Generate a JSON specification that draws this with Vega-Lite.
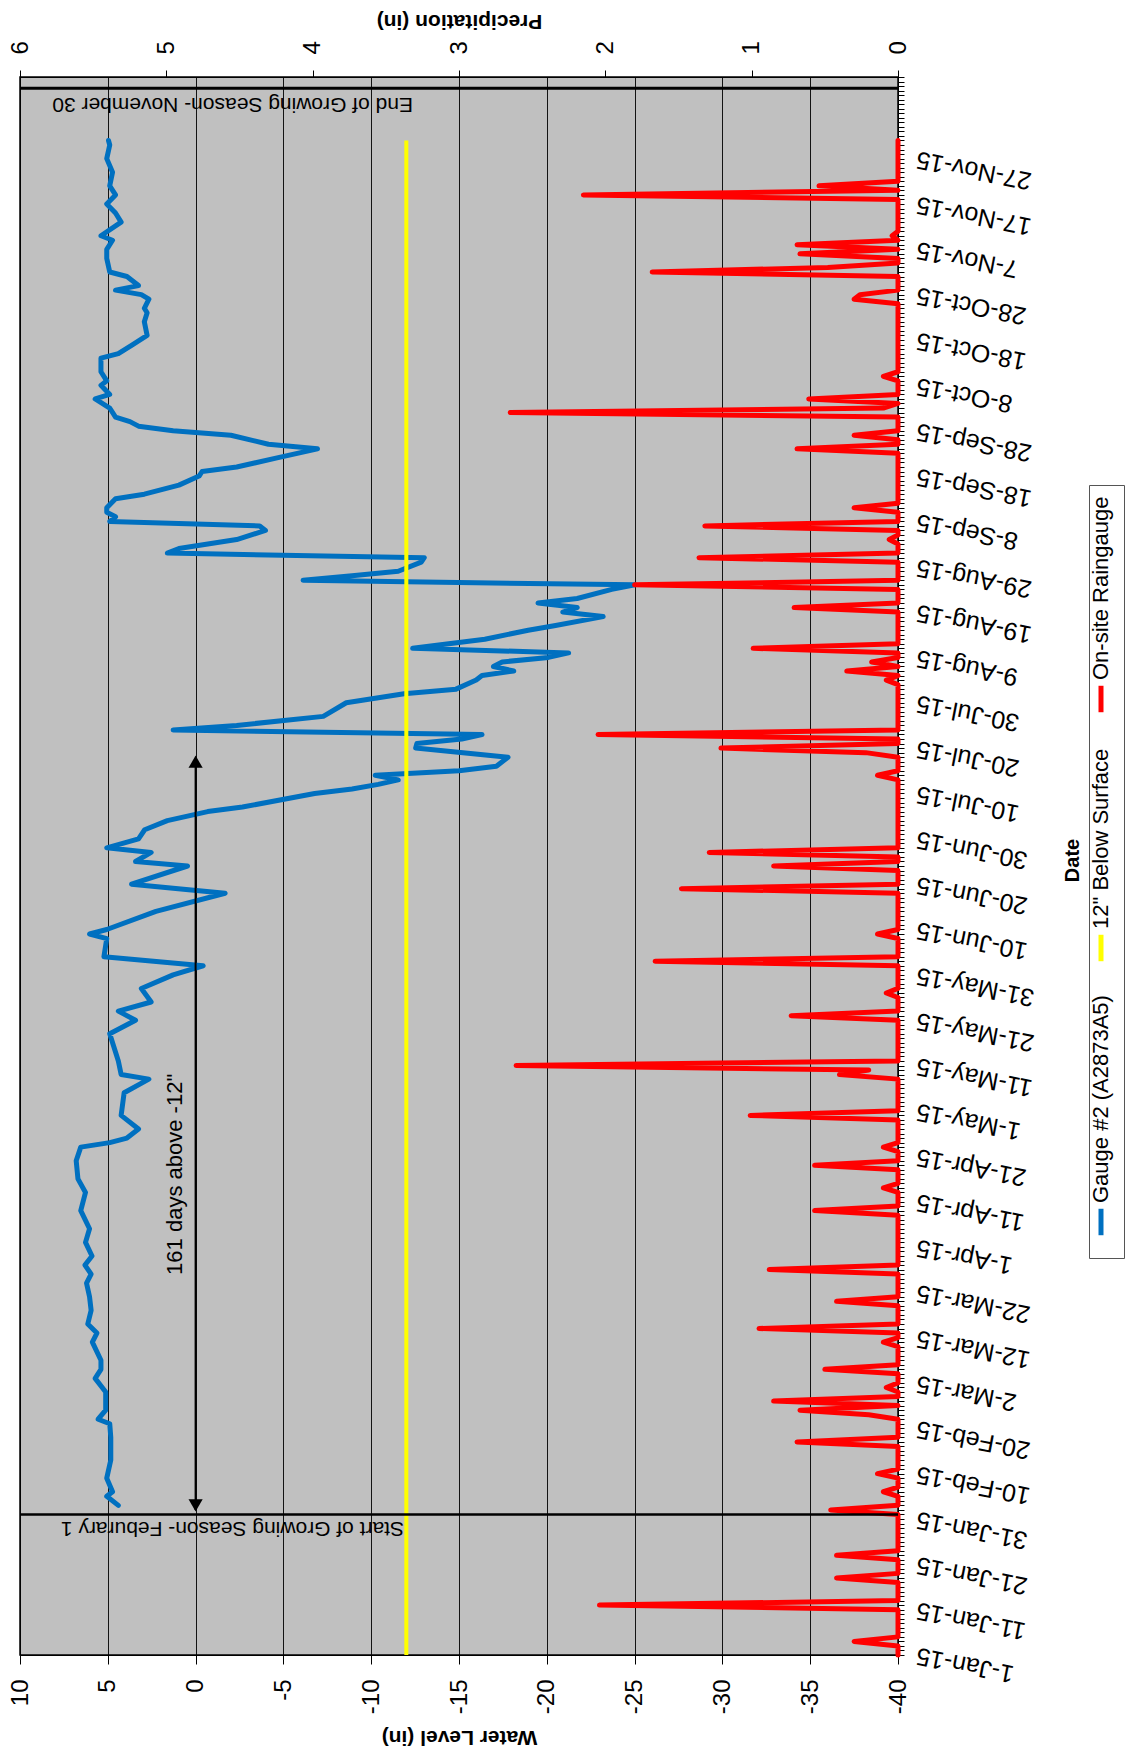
{
"$schema": "https://vega.github.io/schema/vega-lite/v6.json",
"width": 878, "height": 1578,
"autosize": {"type": "none"},
"padding": {"left": 20, "top": 77, "right": 228, "bottom": 97},
"background": "white",
"config": {
  "view": {"fill": "#C0C0C0", "stroke": "#000", "strokeWidth": 1.5},
  "font": "Liberation Sans",
  "axis": {"labelFont": "Liberation Sans", "titleFont": "Liberation Sans", "labelColor": "#000", "titleColor": "#000", "domainColor": "#000", "tickColor": "#000", "tickWidth": 1}
},
"datasets": {
"gauge": [{"d":"2015-02-03","v":4.40},{"d":"2015-02-05","v":5.06},{"d":"2015-02-06","v":4.73},{"d":"2015-02-09","v":5.06},{"d":"2015-02-13","v":4.83},{"d":"2015-02-18","v":4.83},{"d":"2015-02-21","v":4.89},{"d":"2015-02-22","v":5.55},{"d":"2015-02-24","v":5.12},{"d":"2015-02-28","v":5.12},{"d":"2015-03-03","v":5.72},{"d":"2015-03-05","v":5.39},{"d":"2015-03-07","v":5.39},{"d":"2015-03-11","v":5.88},{"d":"2015-03-13","v":5.62},{"d":"2015-03-15","v":6.14},{"d":"2015-03-18","v":5.95},{"d":"2015-03-21","v":6.04},{"d":"2015-03-24","v":6.21},{"d":"2015-03-26","v":5.95},{"d":"2015-03-28","v":6.30},{"d":"2015-03-30","v":5.90},{"d":"2015-04-02","v":6.27},{"d":"2015-04-05","v":6.04},{"d":"2015-04-09","v":6.54},{"d":"2015-04-13","v":6.27},{"d":"2015-04-16","v":6.70},{"d":"2015-04-20","v":6.80},{"d":"2015-04-23","v":6.54},{"d":"2015-04-24","v":4.89},{"d":"2015-04-25","v":3.91},{"d":"2015-04-27","v":3.25},{"d":"2015-04-30","v":4.24},{"d":"2015-05-05","v":4.07},{"d":"2015-05-08","v":2.66},{"d":"2015-05-09","v":4.24},{"d":"2015-05-12","v":4.40},{"d":"2015-05-18","v":4.89},{"d":"2015-05-21","v":3.42},{"d":"2015-05-23","v":4.40},{"d":"2015-05-25","v":2.53},{"d":"2015-05-28","v":3.09},{"d":"2015-05-31","v":1.28},{"d":"2015-06-02","v":-0.43},{"d":"2015-06-04","v":5.22},{"d":"2015-06-08","v":5.06},{"d":"2015-06-09","v":6.04},{"d":"2015-06-10","v":5.06},{"d":"2015-06-14","v":2.26},{"d":"2015-06-18","v":-1.68},{"d":"2015-06-20","v":3.65},{"d":"2015-06-24","v":0.46},{"d":"2015-06-25","v":3.42},{"d":"2015-06-27","v":2.53},{"d":"2015-06-28","v":5.06},{"d":"2015-06-30","v":3.25},{"d":"2015-07-02","v":2.90},{"d":"2015-07-04","v":1.61},{"d":"2015-07-06","v":-0.69},{"d":"2015-07-07","v":-2.67},{"d":"2015-07-10","v":-6.78},{"d":"2015-07-11","v":-8.91},{"d":"2015-07-12","v":-10.40},{"d":"2015-07-13","v":-11.54},{"d":"2015-07-14","v":-10.23},{"d":"2015-07-15","v":-15.00},{"d":"2015-07-16","v":-17.13},{"d":"2015-07-18","v":-17.79},{"d":"2015-07-20","v":-12.53},{"d":"2015-07-21","v":-12.60},{"d":"2015-07-22","v":-15.16},{"d":"2015-07-23","v":-16.31},{"d":"2015-07-24","v":1.28},{"d":"2015-07-25","v":-2.34},{"d":"2015-07-27","v":-7.27},{"d":"2015-07-30","v":-8.58},{"d":"2015-08-01","v":-11.87},{"d":"2015-08-02","v":-14.83},{"d":"2015-08-04","v":-15.98},{"d":"2015-08-05","v":-16.31},{"d":"2015-08-06","v":-18.12},{"d":"2015-08-07","v":-16.96},{"d":"2015-08-08","v":-17.46},{"d":"2015-08-09","v":-20.09},{"d":"2015-08-10","v":-21.24},{"d":"2015-08-11","v":-12.36},{"d":"2015-08-13","v":-16.47},{"d":"2015-08-15","v":-18.94},{"d":"2015-08-16","v":-20.42},{"d":"2015-08-18","v":-23.21},{"d":"2015-08-19","v":-20.91},{"d":"2015-08-20","v":-21.73},{"d":"2015-08-21","v":-19.50},{"d":"2015-08-22","v":-21.73},{"d":"2015-08-24","v":-23.70},{"d":"2015-08-25","v":-25.02},{"d":"2015-08-26","v":-6.12},{"d":"2015-08-27","v":-8.91},{"d":"2015-08-28","v":-11.54},{"d":"2015-08-30","v":-12.85},{"d":"2015-08-31","v":-13.02},{"d":"2015-09-01","v":1.61},{"d":"2015-09-02","v":0.95},{"d":"2015-09-04","v":-2.34},{"d":"2015-09-06","v":-3.98},{"d":"2015-09-07","v":-3.65},{"d":"2015-09-08","v":4.89},{"d":"2015-09-09","v":4.56},{"d":"2015-09-10","v":5.06},{"d":"2015-09-11","v":5.06},{"d":"2015-09-13","v":4.56},{"d":"2015-09-14","v":2.92},{"d":"2015-09-16","v":0.95},{"d":"2015-09-18","v":-0.20},{"d":"2015-09-19","v":-0.37},{"d":"2015-09-20","v":-2.34},{"d":"2015-09-22","v":-4.64},{"d":"2015-09-24","v":-6.94},{"d":"2015-09-25","v":-4.15},{"d":"2015-09-27","v":-2.01},{"d":"2015-09-28","v":1.28},{"d":"2015-09-29","v":3.25},{"d":"2015-09-30","v":3.74},{"d":"2015-10-01","v":4.56},{"d":"2015-10-03","v":4.89},{"d":"2015-10-05","v":5.72},{"d":"2015-10-06","v":4.89},{"d":"2015-10-08","v":5.39},{"d":"2015-10-09","v":5.06},{"d":"2015-10-11","v":5.39},{"d":"2015-10-14","v":5.39},{"d":"2015-10-15","v":4.40},{"d":"2015-10-17","v":3.58},{"d":"2015-10-19","v":2.76},{"d":"2015-10-22","v":2.92},{"d":"2015-10-24","v":2.76},{"d":"2015-10-25","v":2.92},{"d":"2015-10-27","v":2.66},{"d":"2015-10-28","v":3.09},{"d":"2015-10-29","v":4.56},{"d":"2015-10-30","v":3.25},{"d":"2015-11-01","v":3.91},{"d":"2015-11-02","v":4.89},{"d":"2015-11-05","v":5.06},{"d":"2015-11-07","v":5.06},{"d":"2015-11-09","v":4.73},{"d":"2015-11-10","v":5.39},{"d":"2015-11-13","v":4.24},{"d":"2015-11-15","v":4.56},{"d":"2015-11-17","v":5.06},{"d":"2015-11-19","v":4.56},{"d":"2015-11-21","v":4.89},{"d":"2015-11-24","v":4.73},{"d":"2015-11-27","v":5.06},{"d":"2015-11-30","v":4.89},{"d":"2015-12-01","v":4.96}],
"rain": [
{"d":"2015-01-01","p":0},{"d":"2015-01-02","p":0},{"d":"2015-01-03","p":0},{"d":"2015-01-04","p":0.30},{"d":"2015-01-05","p":0},{"d":"2015-01-06","p":0},{"d":"2015-01-07","p":0},{"d":"2015-01-08","p":0},{"d":"2015-01-09","p":0},{"d":"2015-01-10","p":0},{"d":"2015-01-11","p":0},{"d":"2015-01-12","p":2.04},{"d":"2015-01-13","p":0},{"d":"2015-01-14","p":0},{"d":"2015-01-15","p":0},{"d":"2015-01-16","p":0},{"d":"2015-01-17","p":0},{"d":"2015-01-18","p":0.42},{"d":"2015-01-19","p":0},{"d":"2015-01-20","p":0},{"d":"2015-01-21","p":0},{"d":"2015-01-22","p":0},{"d":"2015-01-23","p":0.42},{"d":"2015-01-24","p":0},{"d":"2015-01-25","p":0},{"d":"2015-01-26","p":0},{"d":"2015-01-27","p":0},{"d":"2015-01-28","p":0},{"d":"2015-01-29","p":0},{"d":"2015-01-30","p":0},{"d":"2015-01-31","p":0},
{"d":"2015-02-01","p":0},{"d":"2015-02-02","p":0.46},{"d":"2015-02-03","p":0},{"d":"2015-02-04","p":0},{"d":"2015-02-05","p":0},{"d":"2015-02-06","p":0.10},{"d":"2015-02-07","p":0},{"d":"2015-02-08","p":0},{"d":"2015-02-09","p":0},{"d":"2015-02-10","p":0.14},{"d":"2015-02-11","p":0},{"d":"2015-02-12","p":0},{"d":"2015-02-13","p":0},{"d":"2015-02-14","p":0},{"d":"2015-02-15","p":0},{"d":"2015-02-16","p":0},{"d":"2015-02-17","p":0.69},{"d":"2015-02-18","p":0},{"d":"2015-02-19","p":0},{"d":"2015-02-20","p":0},{"d":"2015-02-21","p":0},{"d":"2015-02-22","p":0},{"d":"2015-02-23","p":0.20},{"d":"2015-02-24","p":0.67},{"d":"2015-02-25","p":0},{"d":"2015-02-26","p":0.85},{"d":"2015-02-27","p":0},{"d":"2015-02-28","p":0},
{"d":"2015-03-01","p":0.08},{"d":"2015-03-02","p":0},{"d":"2015-03-03","p":0},{"d":"2015-03-04","p":0},{"d":"2015-03-05","p":0.50},{"d":"2015-03-06","p":0},{"d":"2015-03-07","p":0},{"d":"2015-03-08","p":0},{"d":"2015-03-09","p":0},{"d":"2015-03-10","p":0},{"d":"2015-03-11","p":0.10},{"d":"2015-03-12","p":0},{"d":"2015-03-13","p":0},{"d":"2015-03-14","p":0.95},{"d":"2015-03-15","p":0},{"d":"2015-03-16","p":0},{"d":"2015-03-17","p":0},{"d":"2015-03-18","p":0},{"d":"2015-03-19","p":0},{"d":"2015-03-20","p":0.42},{"d":"2015-03-21","p":0},{"d":"2015-03-22","p":0},{"d":"2015-03-23","p":0},{"d":"2015-03-24","p":0},{"d":"2015-03-25","p":0},{"d":"2015-03-26","p":0},{"d":"2015-03-27","p":0.88},{"d":"2015-03-28","p":0},{"d":"2015-03-29","p":0},{"d":"2015-03-30","p":0},{"d":"2015-03-31","p":0},
{"d":"2015-04-01","p":0},{"d":"2015-04-02","p":0},{"d":"2015-04-03","p":0},{"d":"2015-04-04","p":0},{"d":"2015-04-05","p":0},{"d":"2015-04-06","p":0},{"d":"2015-04-07","p":0},{"d":"2015-04-08","p":0},{"d":"2015-04-09","p":0.57},{"d":"2015-04-10","p":0},{"d":"2015-04-11","p":0},{"d":"2015-04-12","p":0},{"d":"2015-04-13","p":0},{"d":"2015-04-14","p":0.10},{"d":"2015-04-15","p":0},{"d":"2015-04-16","p":0},{"d":"2015-04-17","p":0},{"d":"2015-04-18","p":0},{"d":"2015-04-19","p":0.57},{"d":"2015-04-20","p":0},{"d":"2015-04-21","p":0},{"d":"2015-04-22","p":0},{"d":"2015-04-23","p":0.10},{"d":"2015-04-24","p":0},{"d":"2015-04-25","p":0},{"d":"2015-04-26","p":0},{"d":"2015-04-27","p":0},{"d":"2015-04-28","p":0},{"d":"2015-04-29","p":0},{"d":"2015-04-30","p":1.01},
{"d":"2015-05-01","p":0},{"d":"2015-05-02","p":0},{"d":"2015-05-03","p":0},{"d":"2015-05-04","p":0},{"d":"2015-05-05","p":0},{"d":"2015-05-06","p":0},{"d":"2015-05-07","p":0},{"d":"2015-05-08","p":0},{"d":"2015-05-09","p":0.40},{"d":"2015-05-10","p":0.20},{"d":"2015-05-11","p":2.61},{"d":"2015-05-12","p":0},{"d":"2015-05-13","p":0},{"d":"2015-05-14","p":0},{"d":"2015-05-15","p":0},{"d":"2015-05-16","p":0},{"d":"2015-05-17","p":0},{"d":"2015-05-18","p":0},{"d":"2015-05-19","p":0},{"d":"2015-05-20","p":0},{"d":"2015-05-21","p":0},{"d":"2015-05-22","p":0.73},{"d":"2015-05-23","p":0},{"d":"2015-05-24","p":0},{"d":"2015-05-25","p":0},{"d":"2015-05-26","p":0},{"d":"2015-05-27","p":0.08},{"d":"2015-05-28","p":0},{"d":"2015-05-29","p":0},{"d":"2015-05-30","p":0},{"d":"2015-05-31","p":0},
{"d":"2015-06-01","p":0},{"d":"2015-06-02","p":0},{"d":"2015-06-03","p":1.66},{"d":"2015-06-04","p":0},{"d":"2015-06-05","p":0},{"d":"2015-06-06","p":0},{"d":"2015-06-07","p":0},{"d":"2015-06-08","p":0},{"d":"2015-06-09","p":0.14},{"d":"2015-06-10","p":0},{"d":"2015-06-11","p":0},{"d":"2015-06-12","p":0},{"d":"2015-06-13","p":0},{"d":"2015-06-14","p":0},{"d":"2015-06-15","p":0},{"d":"2015-06-16","p":0},{"d":"2015-06-17","p":0},{"d":"2015-06-18","p":0},{"d":"2015-06-19","p":1.48},{"d":"2015-06-20","p":0},{"d":"2015-06-21","p":0},{"d":"2015-06-22","p":0},{"d":"2015-06-23","p":0},{"d":"2015-06-24","p":0.85},{"d":"2015-06-25","p":0},{"d":"2015-06-26","p":0},{"d":"2015-06-27","p":1.29},{"d":"2015-06-28","p":0},{"d":"2015-06-29","p":0},{"d":"2015-06-30","p":0},
{"d":"2015-07-01","p":0},{"d":"2015-07-02","p":0},{"d":"2015-07-03","p":0},{"d":"2015-07-04","p":0},{"d":"2015-07-05","p":0},{"d":"2015-07-06","p":0},{"d":"2015-07-07","p":0},{"d":"2015-07-08","p":0},{"d":"2015-07-09","p":0},{"d":"2015-07-10","p":0},{"d":"2015-07-11","p":0},{"d":"2015-07-12","p":0},{"d":"2015-07-13","p":0},{"d":"2015-07-14","p":0.14},{"d":"2015-07-15","p":0},{"d":"2015-07-16","p":0},{"d":"2015-07-17","p":0},{"d":"2015-07-18","p":0},{"d":"2015-07-19","p":0.22},{"d":"2015-07-20","p":1.21},{"d":"2015-07-21","p":0},{"d":"2015-07-22","p":0},{"d":"2015-07-23","p":2.05},{"d":"2015-07-24","p":0},{"d":"2015-07-25","p":0},{"d":"2015-07-26","p":0},{"d":"2015-07-27","p":0},{"d":"2015-07-28","p":0},{"d":"2015-07-29","p":0},{"d":"2015-07-30","p":0},{"d":"2015-07-31","p":0},
{"d":"2015-08-01","p":0},{"d":"2015-08-02","p":0},{"d":"2015-08-03","p":0},{"d":"2015-08-04","p":0.08},{"d":"2015-08-05","p":0},{"d":"2015-08-06","p":0.35},{"d":"2015-08-07","p":0},{"d":"2015-08-08","p":0.18},{"d":"2015-08-09","p":0},{"d":"2015-08-10","p":0},{"d":"2015-08-11","p":0.99},{"d":"2015-08-12","p":0},{"d":"2015-08-13","p":0},{"d":"2015-08-14","p":0},{"d":"2015-08-15","p":0},{"d":"2015-08-16","p":0},{"d":"2015-08-17","p":0},{"d":"2015-08-18","p":0},{"d":"2015-08-19","p":0},{"d":"2015-08-20","p":0.71},{"d":"2015-08-21","p":0},{"d":"2015-08-22","p":0},{"d":"2015-08-23","p":0},{"d":"2015-08-24","p":0},{"d":"2015-08-25","p":1.80},{"d":"2015-08-26","p":0},{"d":"2015-08-27","p":0},{"d":"2015-08-28","p":0},{"d":"2015-08-29","p":0},{"d":"2015-08-30","p":0},{"d":"2015-08-31","p":1.36},
{"d":"2015-09-01","p":0},{"d":"2015-09-02","p":0},{"d":"2015-09-03","p":0},{"d":"2015-09-04","p":0.06},{"d":"2015-09-05","p":0},{"d":"2015-09-06","p":0},{"d":"2015-09-07","p":1.32},{"d":"2015-09-08","p":0},{"d":"2015-09-09","p":0},{"d":"2015-09-10","p":0},{"d":"2015-09-11","p":0.30},{"d":"2015-09-12","p":0},{"d":"2015-09-13","p":0},{"d":"2015-09-14","p":0},{"d":"2015-09-15","p":0},{"d":"2015-09-16","p":0},{"d":"2015-09-17","p":0},{"d":"2015-09-18","p":0},{"d":"2015-09-19","p":0},{"d":"2015-09-20","p":0},{"d":"2015-09-21","p":0},{"d":"2015-09-22","p":0},{"d":"2015-09-23","p":0},{"d":"2015-09-24","p":0.69},{"d":"2015-09-25","p":0},{"d":"2015-09-26","p":0},{"d":"2015-09-27","p":0.30},{"d":"2015-09-28","p":0},{"d":"2015-09-29","p":0},{"d":"2015-09-30","p":0},
{"d":"2015-10-01","p":0},{"d":"2015-10-02","p":2.65},{"d":"2015-10-03","p":0.10},{"d":"2015-10-04","p":0},{"d":"2015-10-05","p":0.61},{"d":"2015-10-06","p":0},{"d":"2015-10-07","p":0},{"d":"2015-10-08","p":0},{"d":"2015-10-09","p":0},{"d":"2015-10-10","p":0.10},{"d":"2015-10-11","p":0},{"d":"2015-10-12","p":0},{"d":"2015-10-13","p":0},{"d":"2015-10-14","p":0},{"d":"2015-10-15","p":0},{"d":"2015-10-16","p":0},{"d":"2015-10-17","p":0},{"d":"2015-10-18","p":0},{"d":"2015-10-19","p":0},{"d":"2015-10-20","p":0},{"d":"2015-10-21","p":0},{"d":"2015-10-22","p":0},{"d":"2015-10-23","p":0},{"d":"2015-10-24","p":0},{"d":"2015-10-25","p":0},{"d":"2015-10-26","p":0},{"d":"2015-10-27","p":0.30},{"d":"2015-10-28","p":0.26},{"d":"2015-10-29","p":0},{"d":"2015-10-30","p":0},{"d":"2015-10-31","p":0},
{"d":"2015-11-01","p":0},{"d":"2015-11-02","p":1.68},{"d":"2015-11-03","p":0.48},{"d":"2015-11-04","p":0},{"d":"2015-11-05","p":0},{"d":"2015-11-06","p":0.67},{"d":"2015-11-07","p":0},{"d":"2015-11-08","p":0.69},{"d":"2015-11-09","p":0},{"d":"2015-11-10","p":0.04},{"d":"2015-11-11","p":0},{"d":"2015-11-12","p":0},{"d":"2015-11-13","p":0},{"d":"2015-11-14","p":0},{"d":"2015-11-15","p":0},{"d":"2015-11-16","p":0},{"d":"2015-11-17","p":0},{"d":"2015-11-18","p":0},{"d":"2015-11-19","p":2.15},{"d":"2015-11-20","p":0},{"d":"2015-11-21","p":0.54},{"d":"2015-11-22","p":0},{"d":"2015-11-23","p":0},{"d":"2015-11-24","p":0},{"d":"2015-11-25","p":0},{"d":"2015-11-26","p":0},{"d":"2015-11-27","p":0},{"d":"2015-11-28","p":0},{"d":"2015-11-29","p":0},{"d":"2015-11-30","p":0},
{"d":"2015-12-01","p":0}
]
},
"layer": [
  {
    "layer": [
      {
        "data": {"name": "gauge"},
        "mark": {"type": "line", "strokeWidth": 5, "strokeJoin": "round", "strokeCap": "round"},
        "encoding": {
          "x": {"field": "v", "type": "quantitative",
            "scale": {"domain": [-40, 10], "reverse": true, "nice": false, "zero": false},
            "axis": {"orient": "bottom", "values": [-40,-35,-30,-25,-20,-15,-10,-5,0,5,10],
              "grid": true, "gridColor": "#000", "gridWidth": 1, "gridOpacity": 0.9,
              "tickSize": 9, "labelAngle": -90, "labelAlign": "right", "labelBaseline": "middle",
              "labelPadding": 15, "labelFontSize": 24, "labelExpr": "'' + datum.value", "labelOverlap": false, "labelFlush": false,
              "title": "Water Level (in)", "titleFontSize": 21, "titleFontWeight": "bold", "titleAngle": 180,
              "titleX": 439, "titleY": 81, "titleAlign": "center", "titleBaseline": "middle"}},
          "y": {"field": "d", "type": "temporal",
            "scale": {"type": "utc", "domain": [1420070400000, 1450137600000], "nice": false},
            "axis": {"orient": "right", "tickCount": {"interval": "day", "step": 1}, "tickSize": 6, "grid": false,
              "labelAngle": 191, "labelAlign": "right", "labelBaseline": "middle", "labelPadding": 12,
              "labelFontSize": 25, "labelOverlap": false, "labelFlush": false, "labelBound": false,
              "labelExpr": "(round((+datum.value - 1420070400000) / 86400000) % 10 == 0 && +datum.value <= 1448582400000) ? utcFormat(datum.value, '%-d-%b-%y') : ''",
              "title": "Date", "titleFontSize": 20, "titleFontWeight": "bold", "titleAngle": -90,
              "titleX": 174, "titleY": 783, "titleAlign": "center", "titleBaseline": "middle"}},
          "order": {"field": "d", "type": "temporal"},
          "color": {"datum": "Gauge #2 (A2873A5)", "type": "nominal",
            "scale": {"domain": ["On-site Raingauge", "12\" Below Surface", "Gauge #2 (A2873A5)"], "range": ["#FF0000", "#FFFF00", "#0070C0"]},
            "legend": {"orient": "none", "legendX": 1069, "legendY": 408, "direction": "vertical", "title": null,
              "symbolType": "M0,-1L0,1", "symbolSize": 700, "symbolStrokeWidth": 5,
              "labelFont": "Liberation Sans", "labelFontSize": 22, "labelColor": "#000", "labelLimit": 0,
              "strokeColor": "#555", "fillColor": "#fff", "padding": 12, "rowPadding": 23,
              "encoding": {
                "labels": {"angle": {"value": 270}, "align": {"value": "left"}, "baseline": {"value": "middle"}, "x": {"value": 0}, "y": {"value": 183}},
                "symbols": {"x": {"value": 0}, "y": {"value": 202}}
              }}}
        }
      },
      {
        "data": {"values": [{"d": "2015-01-01", "v": -12}, {"d": "2015-12-01", "v": -12}]},
        "mark": {"type": "line", "strokeWidth": 4},
        "encoding": {
          "x": {"field": "v", "type": "quantitative", "scale": {"domain": [-40, 10], "reverse": true, "nice": false, "zero": false}},
          "y": {"field": "d", "type": "temporal", "scale": {"type": "utc", "domain": [1420070400000, 1450137600000], "nice": false}},
          "color": {"datum": "12\" Below Surface", "type": "nominal"}
        }
      }
    ]
  },
  {
    "data": {"name": "rain"},
    "mark": {"type": "line", "strokeWidth": 5, "strokeJoin": "round", "strokeCap": "round"},
    "encoding": {
      "x": {"field": "p", "type": "quantitative",
        "scale": {"domain": [0, 6], "reverse": true, "nice": false, "zero": false},
        "axis": {"orient": "top", "values": [0,1,2,3,4,5,6], "grid": false, "tickSize": 7,
          "labelAngle": -90, "labelAlign": "left", "labelBaseline": "middle", "labelPadding": 16,
          "labelFontSize": 24, "labelExpr": "'' + datum.value", "labelOverlap": false, "labelFlush": false,
          "title": "Precipitation (in)", "titleFontSize": 21, "titleFontWeight": "bold", "titleAngle": 180,
          "titleX": 439, "titleY": -57, "titleAlign": "center", "titleBaseline": "middle"}},
      "y": {"field": "d", "type": "temporal", "scale": {"type": "utc", "domain": [1420070400000, 1450137600000], "nice": false}},
      "order": {"field": "d", "type": "temporal"},
      "color": {"datum": "On-site Raingauge", "type": "nominal"}
    }
  },
  {
    "layer": [
      {
        "data": {"values": [{"d": "2015-02-01"}]},
        "mark": {"type": "rule", "color": "#000", "strokeWidth": 2.5},
        "encoding": {"y": {"field": "d", "type": "temporal", "scale": {"type": "utc", "domain": [1420070400000, 1450137600000], "nice": false}}}
      },
      {
        "data": {"values": [{"d": "2015-12-12T12:00:00Z"}]},
        "mark": {"type": "rule", "color": "#000", "strokeWidth": 3},
        "encoding": {"y": {"field": "d", "type": "temporal", "scale": {"type": "utc", "domain": [1420070400000, 1450137600000], "nice": false}}}
      },
      {
        "data": {"values": [{"d": "2015-02-02", "d2": "2015-07-17"}]},
        "mark": {"type": "rule", "color": "#000", "strokeWidth": 2},
        "encoding": {
          "x": {"datum": 0, "type": "quantitative", "scale": {"domain": [-40, 10], "reverse": true, "nice": false, "zero": false}, "axis": null},
          "y": {"field": "d", "type": "temporal", "scale": {"type": "utc", "domain": [1420070400000, 1450137600000], "nice": false}},
          "y2": {"field": "d2"}
        }
      },
      {
        "data": {"values": [{"d": "2015-07-17", "s": "triangle-up"}, {"d": "2015-02-03", "s": "triangle-down"}]},
        "mark": {"type": "point", "filled": true, "color": "#000", "size": 200, "opacity": 1},
        "encoding": {
          "x": {"datum": 0, "type": "quantitative", "scale": {"domain": [-40, 10], "reverse": true, "nice": false, "zero": false}, "axis": null},
          "y": {"field": "d", "type": "temporal", "scale": {"type": "utc", "domain": [1420070400000, 1450137600000], "nice": false}},
          "shape": {"field": "s", "type": "nominal", "scale": null, "legend": null}
        }
      },
      {
        "data": {"values": [{"d": "2015-04-17", "t": "161 days above -12\""}]},
        "mark": {"type": "text", "angle": 270, "align": "center", "baseline": "middle", "fontSize": 22, "font": "Liberation Sans", "color": "#000"},
        "encoding": {
          "x": {"datum": 1.2, "type": "quantitative", "scale": {"domain": [-40, 10], "reverse": true, "nice": false, "zero": false}, "axis": null},
          "y": {"field": "d", "type": "temporal", "scale": {"type": "utc", "domain": [1420070400000, 1450137600000], "nice": false}},
          "text": {"field": "t"}
        }
      },
      {
        "data": {"values": [{"d": "2015-01-29", "t": "Start of Growing Season- Feburary 1"}]},
        "mark": {"type": "text", "angle": 180, "align": "left", "baseline": "middle", "fontSize": 21, "font": "Liberation Sans", "color": "#000"},
        "encoding": {
          "x": {"datum": -11.87, "type": "quantitative", "scale": {"domain": [-40, 10], "reverse": true, "nice": false, "zero": false}, "axis": null},
          "y": {"field": "d", "type": "temporal", "scale": {"type": "utc", "domain": [1420070400000, 1450137600000], "nice": false}},
          "text": {"field": "t"}
        }
      },
      {
        "data": {"values": [{"d": "2015-12-09", "t": "End of Growing Season- November 30"}]},
        "mark": {"type": "text", "angle": 180, "align": "left", "baseline": "middle", "fontSize": 21, "font": "Liberation Sans", "color": "#000"},
        "encoding": {
          "x": {"datum": -12.38, "type": "quantitative", "scale": {"domain": [-40, 10], "reverse": true, "nice": false, "zero": false}, "axis": null},
          "y": {"field": "d", "type": "temporal", "scale": {"type": "utc", "domain": [1420070400000, 1450137600000], "nice": false}},
          "text": {"field": "t"}
        }
      }
    ]
  }
],
"resolve": {"scale": {"x": "independent"}, "axis": {"x": "independent"}}
}
